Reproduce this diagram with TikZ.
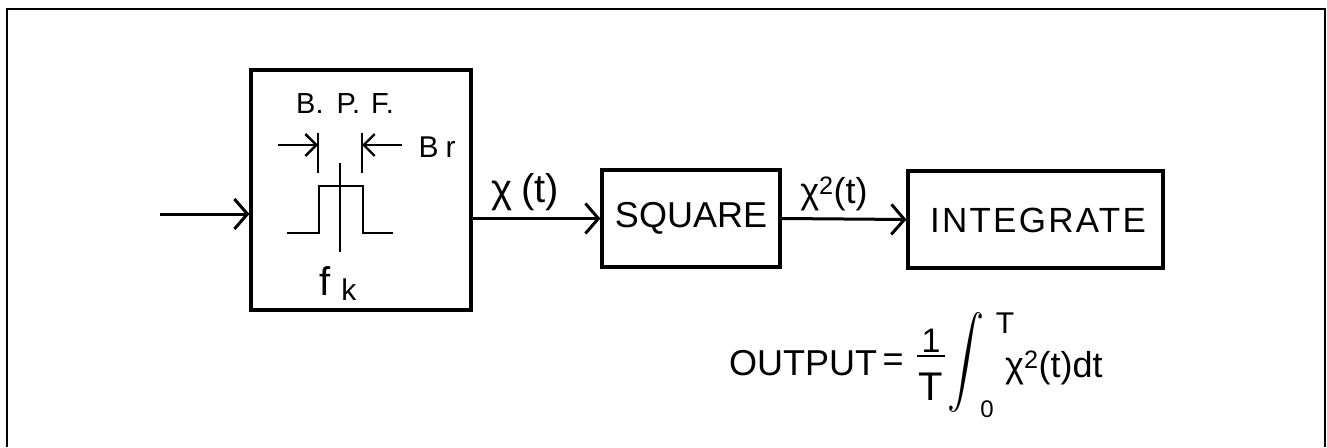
\documentclass[tikz,border=0pt]{standalone}
\usepackage{fontspec}
\usepackage{graphicx}
\setmainfont{Liberation Sans}
\usetikzlibrary{arrows.meta}
\newcommand{\fsz}[1]{\fontsize{#1}{#1}\selectfont}
\begin{document}
\begin{tikzpicture}[x=1pt,y=-1pt,
  blk/.style={draw,line width=3.2pt,inner sep=0pt},
  conn/.style={line width=3pt,-{Straight Barb[length=13pt,width=30pt,line width=3pt]}},
  dimarr/.style={line width=2.4pt,-{Straight Barb[length=11pt,width=22pt,line width=2.4pt]}},
  thin/.style={line width=2.6pt},
  txt/.style={inner sep=0pt}
]
\useasboundingbox (0,0) rectangle (1327,447);
% frame
\draw[line width=2.6pt] (7,447) -- (7,9) -- (1325,9) -- (1325,447);
% blocks
\node[blk, minimum width=220pt, minimum height=240pt] (bpf) at (361,190) {};
\node[blk, minimum width=178pt, minimum height=97pt] (sq) at (691,218.5) {};
\node[txt, font=\fsz{36}] (sqt) at (sq.center) {SQUARE};
\node[blk, minimum width=255pt, minimum height=97pt] (int) at (1035.5,219.5) {};
\node[txt, font=\fsz{35}\addfontfeature{LetterSpace=6.5}] (intt) at (1038,220) {INTEGRATE};
% connectors
\coordinate (in) at (160,214);
\draw[conn] (in) -- (in -| bpf.west);
\draw[conn] (bpf.east |- sq.west) -- (sq.west);
\draw[conn] (sq.east) -- (int.west);
% labels on connectors
\node[txt, font=\fsz{40}] (xl) at (525,192) {χ\hspace{9pt}(t)};
\node[txt, font=\fsz{36}] (x2l) at (834,194) {χ\textsuperscript{2}(t)};
% inside band pass filter
\node[txt, font=\fsz{29}] (bpfl) at (345,104) {B.\hspace{13pt}P.\hspace{11pt}F.};
\coordinate (tl1) at (318,133); \coordinate (tl2) at (318,173);
\coordinate (tr1) at (362,133); \coordinate (tr2) at (362,173);
\draw[thin] (tl1) -- (tl2);
\draw[thin] (tr1) -- (tr2);
\coordinate (al) at (278,145); \coordinate (ar) at (402,145);
\draw[dimarr] (al) -- (al -| tl1);
\draw[dimarr] (ar) -- (ar -| tr1);
\node[txt, font=\fsz{30}] (br) at (437,147) {B\hspace{7pt}r};
\coordinate (p0) at (287,233); \coordinate (p5) at (393,233);
\draw[thin] (p0) -- (319,233) -- (319,186) -- (363,186) -- (363,233) -- (p5);
\coordinate (c1) at (340,163); \coordinate (c2) at (340,252);
\draw[thin] (c1) -- (c2);
\node[txt, font=\fsz{40}, anchor=base west] (fk) at (319,295) {f\hspace{11pt}\raisebox{-5pt}{\fsz{30}k}};
% output formula
\node[txt, font=\fsz{36}, anchor=west] (out) at (729,363) {OUTPUT};
\node[txt, font=\fsz{36}] (eq) at (893,363) {=};
\node[txt, font=\fsz{34}] (num) at (931,341) {1};
\coordinate (fb1) at (917,356); \coordinate (fb2) at (945,356);
\draw[line width=2.6pt] (fb1) -- (fb2);
\node[txt, font=\fsz{40}] (den) at (931,387) {T};
\node[txt] (intg) at (966,363) {\resizebox*{37pt}{100pt}{$\displaystyle\int$}};
\node[txt, font=\fsz{30}] (up) at (1005,323) {T};
\node[txt, font=\fsz{24}] (lo) at (987,409) {0};
\node[txt, font=\fsz{36}, anchor=west] (integrand) at (1005,368) {χ\textsuperscript{2}(t)dt};
\end{tikzpicture}
\end{document}
